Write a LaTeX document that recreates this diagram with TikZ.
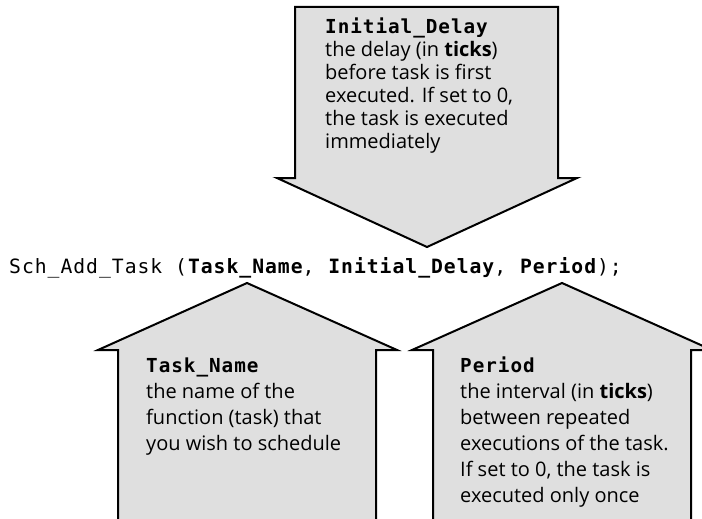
\documentclass[tikz,border=0pt]{standalone}
\usepackage{fontspec}
\setmainfont{Open Sans}
\newfontfamily\codefont[LetterSpace=5]{DejaVu Sans Mono}
\definecolor{calloutfill}{HTML}{DFDFDF}
\tikzset{
  callout/.style={draw=black, line width=2pt, fill=calloutfill, line join=miter},
  codeline/.style={anchor=base west, inner sep=0pt, font=\codefont\fontsize{19.7}{24}\selectfont},
  topnote/.style={anchor=base west, inner sep=0pt, font=\fontsize{20}{23}\selectfont},
  lownote/.style={anchor=base west, inner sep=0pt, font=\fontsize{20}{26}\selectfont}
}
\newcommand\notebox[1]{\parbox[t]{260pt}{\raggedright #1}}
\newcommand\titl[1]{{\codefont\bfseries\fontsize{19.3}{20}\selectfont #1}}
\begin{document}
\begin{tikzpicture}[x=1pt,y=-1pt]
\useasboundingbox (0,0) rectangle (702,519);
\begin{scope}
\clip (0,0) rectangle (702,519);
% top arrow pointing down
\draw[callout] (295,7) -- (558,7) -- (558,178) -- (577,178) -- (427,247) -- (277,178) -- (295,178) -- cycle;
% Task_Name arrow pointing up
\draw[callout] (247,283) -- (397,350) -- (376,350) -- (376,540) -- (118,540) -- (118,350) -- (98,350) -- cycle;
% Period arrow pointing up
\draw[callout] (562,283) -- (712,350) -- (691,350) -- (691,540) -- (433,540) -- (433,350) -- (412,350) -- cycle;
\end{scope}
\node[codeline] (code) at (9,273) {Sch\_Add\_Task (\textbf{Task\_Name}, \textbf{Initial\_Delay}, \textbf{Period});};
\node[topnote] (delay) at (325,34) {\notebox{\titl{Initial\_Delay}\\
the delay (in \textbf{ticks})\\
before task is first\\
executed. If set to 0,\\
the task is executed\\
immediately}};
\node[lownote] (name) at (146,372) {\notebox{\titl{Task\_Name}\\
the name of the\\
function (task) that\\
you wish to schedule}};
\node[lownote] (period) at (460,372) {\notebox{\titl{Period}\\
the interval (in \textbf{ticks})\\
between repeated\\
executions of the task.\\
If set to 0, the task is\\
executed only once}};
\end{tikzpicture}
\end{document}
